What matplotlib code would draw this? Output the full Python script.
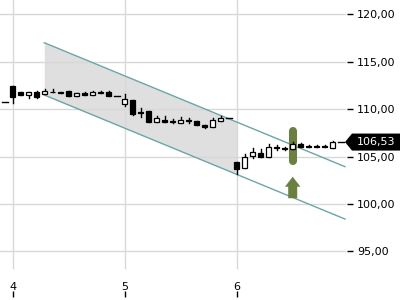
import matplotlib
matplotlib.use("Agg")
import matplotlib.pyplot as plt
import matplotlib.patches as mpatches
import matplotlib.transforms as mtransforms
import numpy as np

# ---- data ----
x_start = 4.0
step = 1 / 14
opens  = [110.8, 112.4, 111.8, 111.45, 111.85, 111.57, 111.85, 111.8, 111.9, 111.4,
          111.75, 111.55, 111.78, 111.82, 111.43, 110.5, 110.97, 109.7, 109.8, 108.68,
          108.9, 108.75, 108.5, 108.82, 108.75, 108.3, 108.15, 108.72, 109.04, 104.4,
          103.8, 105.1, 105.4, 105.0, 106.0, 105.88, 105.77, 106.29, 106.1, 106.1,
          106.1, 105.9, 106.53]
highs  = [110.8, 112.5, 111.85, 111.8, 111.9, 112.1, 112.1, 111.8, 111.9, 111.7,
          111.85, 111.95, 111.9, 111.95, 111.43, 111.6, 110.97, 110.1, 109.8, 109.3,
          109.3, 108.93, 109.15, 109.05, 108.75, 108.3, 109.1, 109.28, 109.04, 104.4,
          105.27, 105.86, 105.85, 106.3, 106.24, 106.05, 106.55, 106.45, 106.25, 106.2,
          106.2, 106.6, 106.53]
lows   = [110.8, 110.7, 111.5, 111.15, 111.2, 111.57, 111.8, 111.7, 111.4, 111.4,
          111.5, 111.55, 111.68, 111.4, 111.43, 110.35, 109.35, 109.15, 108.68, 108.68,
          108.7, 108.5, 108.5, 108.5, 108.28, 107.99, 108.15, 108.72, 109.04, 103.15,
          103.8, 104.8, 104.98, 105.0, 105.68, 105.7, 105.77, 105.97, 106.05, 106.05,
          105.98, 105.9, 106.53]
closes = [110.8, 111.3, 111.5, 111.8, 111.3, 111.92, 111.8, 111.7, 111.4, 111.7,
          111.5, 111.78, 111.68, 111.4, 111.43, 111.05, 109.45, 109.65, 108.68, 109.04,
          108.7, 108.7, 108.86, 108.78, 108.28, 108.15, 108.86, 109.07, 109.04, 103.7,
          104.98, 105.48, 104.98, 105.97, 105.95, 105.85, 106.29, 105.97, 106.05, 106.05,
          105.98, 106.5, 106.53]

channel_x = [4.282, 6.967]
channel_upper = [117.02, 103.93]
channel_lower = [111.5, 98.4]
shade_end = 6.0

signal_x = 6.5
pill_range = [104.1, 108.15]
arrow_range = [100.6, 102.87]

last_price = 106.53
y_ticks = [95, 100, 105, 110, 115, 120]
x_ticks = [4, 5, 6]

# ---- figure ----
W, H = 400, 300
fig = plt.figure(figsize=(W / 100, H / 100), dpi=100)
ax = fig.add_axes([0, 3 / H, 353 / W, 297 / H])
ax.set_xlim(3.8866, 7.0384)
ax.set_ylim(90.17, 121.53)
for s in ax.spines.values():
    s.set_visible(False)

# grid
grid_c = "#d8d8d8"
for yv in y_ticks:
    ax.axhline(yv, xmin=0, xmax=345 / 353, color=grid_c, lw=1, zorder=1)
for xv in x_ticks:
    ax.axvline(xv, ymin=(297 - 268) / 297, ymax=1, color=grid_c, lw=1, zorder=1)

# channel
ch_x = np.array(channel_x)
up = np.array(channel_upper)
lo = np.array(channel_lower)
slope = (up[1] - up[0]) / (ch_x[1] - ch_x[0])
sx = np.array([ch_x[0], shade_end])
ax.fill_between(sx, lo[0] + slope * (sx - ch_x[0]), up[0] + slope * (sx - ch_x[0]),
                color="#dcdcdc", alpha=0.9, lw=0, zorder=0.5)
teal = "#6aa6a8"
ax.plot(ch_x, up, color=teal, lw=1, zorder=2)
ax.plot(ch_x, lo, color=teal, lw=1, zorder=2)

# signal pill and arrow
green = "#6b8040"
pad = 4 / 9.47
ax.plot([signal_x, signal_x], [pill_range[0] + pad, pill_range[1] - pad], color=green,
        lw=5.8, solid_capstyle="round", zorder=3)
arr = mpatches.FancyArrow(signal_x, arrow_range[0], 0, arrow_range[1] - arrow_range[0],
                          width=9 / 112, head_width=15.5 / 112, head_length=10 / 9.47,
                          length_includes_head=True, color=green, lw=0, zorder=3)
ax.add_patch(arr)

# candles
bw = 5 / 112
for i in range(len(opens)):
    xc = x_start + (i - 1) * step
    o, h, l, c = opens[i], highs[i], lows[i], closes[i]
    ax.plot([xc, xc], [l, h], color="black", lw=1, zorder=4)
    if abs(c - o) < 1e-9:
        ax.plot([xc - bw / 2 - 0.005, xc + bw / 2 + 0.005], [o, o], color="black", lw=1, zorder=5)
    else:
        fc = "white" if c > o else "black"
        ax.add_patch(mpatches.Rectangle((xc - bw / 2, min(o, c)), bw, abs(c - o),
                                        facecolor=fc, edgecolor="black", lw=0.9, zorder=5))

# ticks
ax.yaxis.tick_right()
ax.set_yticks(y_ticks)
ax.set_yticklabels([f"{v:.2f}".replace(".", ",") for v in y_ticks])
ax.tick_params(axis="y", direction="in", length=4, width=1, pad=3, labelsize=8, colors="black")
ax.set_xticks(x_ticks)
ax.set_xticklabels([str(v) for v in x_ticks])
ax.tick_params(axis="x", direction="in", length=4, width=1, pad=-11, labelsize=8, colors="black")

# price tag
fig.canvas.draw()
_, py = ax.transData.transform((6.0, last_price))
hh = 8.5
pts = [(345, py), (352, py + hh), (400, py + hh), (400, py - hh), (352, py - hh)]
tag = mpatches.Polygon(pts, closed=True, facecolor="black", edgecolor="none",
                       transform=mtransforms.IdentityTransform(), zorder=10)
fig.add_artist(tag)
fig.text(357 / W, py / H, f"{last_price:.2f}".replace(".", ","), color="white",
         fontsize=8, va="center", ha="left", zorder=11)

fig.savefig("out.png", dpi=100)
